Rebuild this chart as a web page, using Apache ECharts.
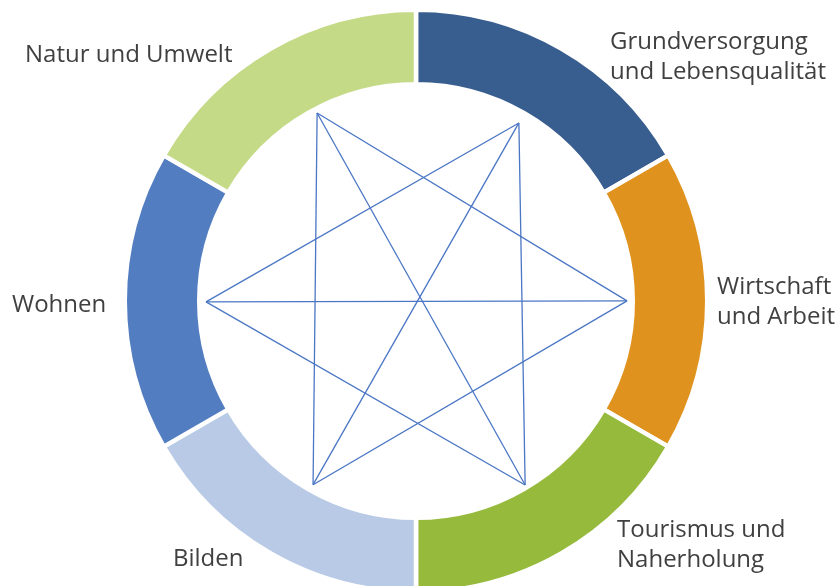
<!DOCTYPE html>
<html>
<head>
<meta charset="utf-8">
<script src="https://cdn.jsdelivr.net/npm/echarts@6/dist/echarts.min.js"></script>
<style>
html,body{margin:0;padding:0;background:#fff;}
#chart{width:837px;height:586px;}
</style>
</head>
<body>
<div id="chart"></div>
<script>
// ---- data ----
const categories = [
  'Grundversorgung\nund Lebensqualität',
  'Wirtschaft\nund Arbeit',
  'Tourismus und\nNaherholung',
  'Bilden',
  'Wohnen',
  'Natur und Umwelt'
];
const values = [1, 1, 1, 1, 1, 1];
const colors = ['#385D8F', '#DF921D', '#96BA3C', '#B8CAE5', '#527DC1', '#C4DA86'];
// star vertices (one per segment): relative radius and angle (deg, clockwise from top)
const vertexRadius = [0.971, 1.005, 1.027, 1.011, 1.0, 1.003];
const vertexAngle = [30.3, 90.5, 149.6, 209.0, 269.2, 332.0];
// edges between vertices (indices)
const edges = [
  [0, 2], [2, 4], [4, 0],   // triangle 1
  [1, 3], [3, 5], [5, 1],   // triangle 2
  [0, 3], [1, 4], [2, 5]    // long diagonals
];

// label placement (left x, vertical middle y)
const labelPos = [
  [610, 57], [717, 302], [617, 545], [173, 559], [12, 305], [25, 55]
];

const chart = echarts.init(document.getElementById('chart'), null, {renderer: 'canvas'});

const lineSeries = edges.map(function (e) {
  return {
    type: 'line',
    coordinateSystem: 'polar',
    polarIndex: 0,
    symbol: 'none',
    silent: true,
    lineStyle: {color: '#4A76C4', width: 1.3},
    data: e.map(function (i) { return [vertexRadius[i], vertexAngle[i]]; }),
    z: 3
  };
});

const option = {
  animation: false,
  backgroundColor: '#ffffff',
  textStyle: {fontFamily: '"Open Sans", sans-serif'},
  polar: {center: [416, 299], radius: 252},
  angleAxis: {
    type: 'value', min: 0, max: 360, startAngle: 90, clockwise: true,
    show: false, axisLine: {show: false}, splitLine: {show: false}, axisTick: {show: false}, axisLabel: {show: false}
  },
  radiusAxis: {
    type: 'value', min: 0, max: 1.2,
    show: false, axisLine: {show: false}, splitLine: {show: false}, axisTick: {show: false}, axisLabel: {show: false}
  },
  series: [
    {
      type: 'pie',
      center: [416, 301],
      radius: [216.75, 291.25],
      startAngle: 90,
      clockwise: true,
      silent: true,
      itemStyle: {borderColor: '#ffffff', borderWidth: 4.5},
      label: {
        show: true,
        position: 'outside',
        color: '#404040',
        fontFamily: '"Open Sans", sans-serif',
        fontSize: 24,
        lineHeight: 30,
        align: 'left',
        overflow: 'none',
        width: 300,
        formatter: function (p) { return p.name; }
      },
      labelLine: {show: false},
      labelLayout: function (params) {
        const pos = labelPos[params.dataIndex];
        return {x: pos[0], y: pos[1], align: 'left', verticalAlign: 'middle'};
      },
      data: categories.map(function (c, i) {
        return {name: c, value: values[i], itemStyle: {color: colors[i]}};
      })
    }
  ].concat(lineSeries)
};

chart.setOption(option);
</script>
</body>
</html>
